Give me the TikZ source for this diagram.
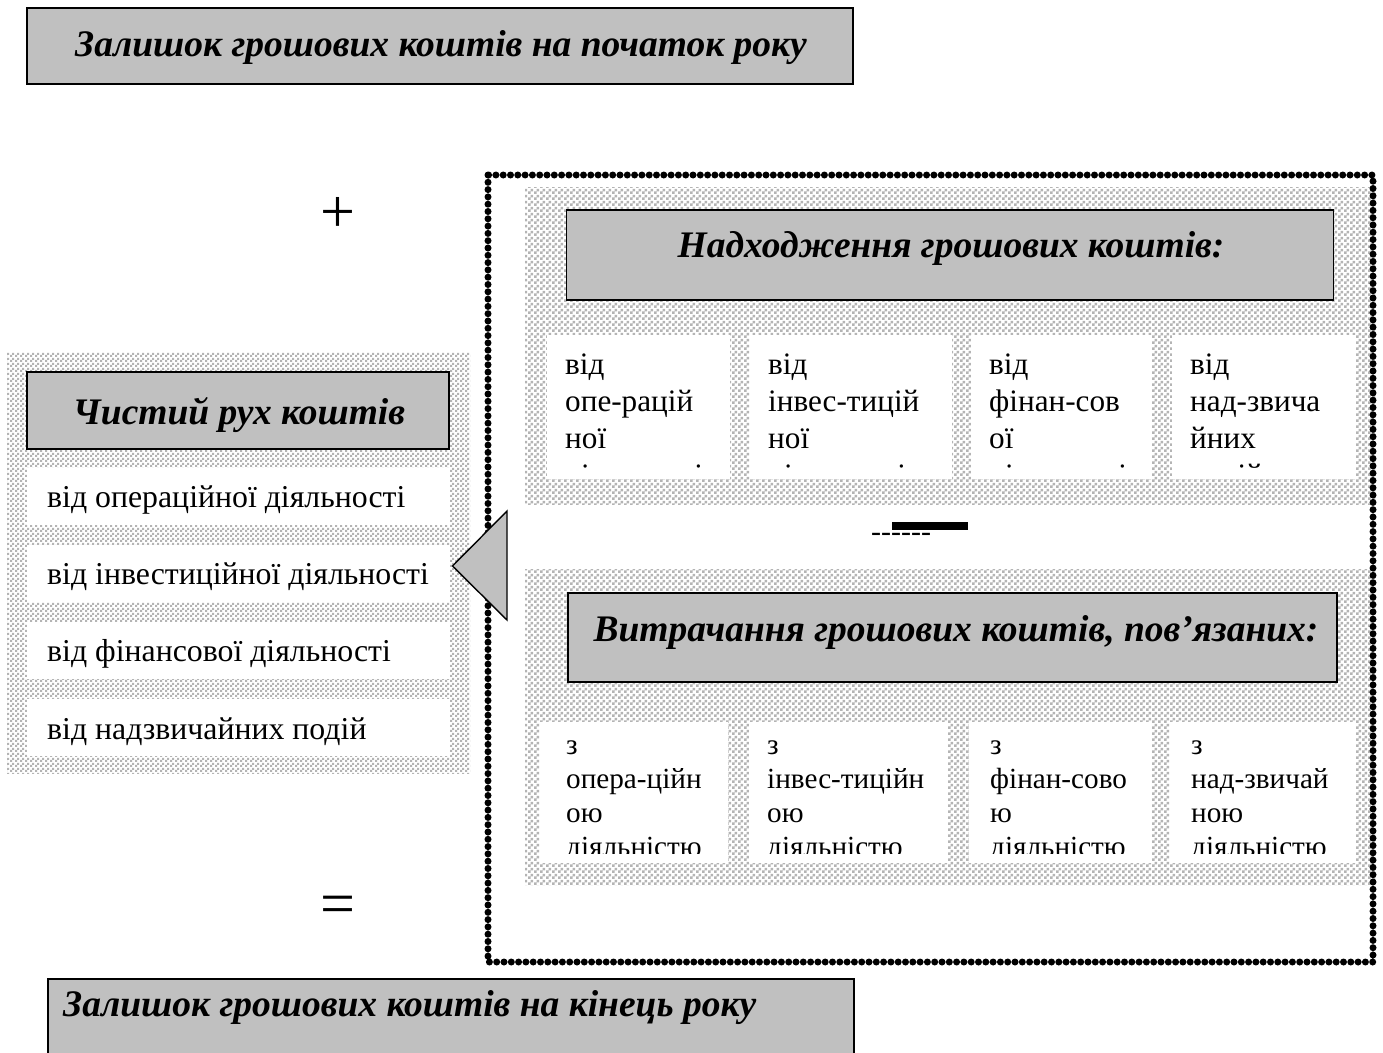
\documentclass[tikz,border=0pt]{standalone}
\usepackage{fontspec}
\setmainfont{Liberation Serif}
\usetikzlibrary{patterns}
\definecolor{boxgray}{HTML}{C0C0C0}
\definecolor{chkgray}{HTML}{B4B4B4}
\pgfdeclarepatternformonly{chkbig}{\pgfpointorigin}{\pgfpoint{6pt}{6pt}}{\pgfpoint{6pt}{6pt}}{%
  \pgfpathrectangle{\pgfpointorigin}{\pgfpoint{3pt}{3pt}}%
  \pgfpathrectangle{\pgfpoint{3pt}{3pt}}{\pgfpoint{3pt}{3pt}}%
  \pgfusepath{fill}}
\pgfdeclarepatternformonly{chksmall}{\pgfpointorigin}{\pgfpoint{5pt}{5pt}}{\pgfpoint{5pt}{5pt}}{%
  \pgfpathrectangle{\pgfpointorigin}{\pgfpoint{2.5pt}{2.5pt}}%
  \pgfpathrectangle{\pgfpoint{2.5pt}{2.5pt}}{\pgfpoint{2.5pt}{2.5pt}}%
  \pgfusepath{fill}}
\tikzset{
  hdrbox/.style={draw=black, line width=1.6pt, fill=boxgray, inner sep=0pt},
  hdrtext/.style={font=\fontsize{37.5}{42}\selectfont\bfseries\itshape, inner sep=0pt},
  whitebox/.style={fill=white, inner sep=0pt},
  rowtext/.style={font=\fontsize{31.8}{36}\selectfont, inner sep=0pt, anchor=base west},
  celltext/.style={font=\fontsize{31.2}{37}\selectfont, inner sep=0pt, align=left, anchor=north west},
  lowtext/.style={font=\fontsize{29.2}{34}\selectfont, inner sep=0pt, align=left, anchor=north west},
  patbig/.style={pattern=chkbig, pattern color=chkgray},
  patsmall/.style={pattern=chksmall, pattern color=chkgray},
  dotframe/.style={line width=7pt, dash pattern=on 0pt off 7.3pt, line cap=round},
  signtext/.style={font=\fontsize{62}{62}\selectfont, inner sep=0pt},
}
\begin{document}
\begin{tikzpicture}[x=1pt, y=-1pt]
\useasboundingbox[fill=white] (0,0) rectangle (1383,1052);

% top box
\node[hdrbox, minimum width=826pt, minimum height=76pt] (start) at (440,46) {};
\node[hdrtext, anchor=base west] (starttxt) at (75,56) {Залишок грошових коштів на початок року};

% plus, equals
\node[signtext] (plus) at (338,215) {+};
\node[signtext] (eq) at (338,910) {=};

% left group
\fill[patsmall] (7,352) rectangle (470,773);
\node[hdrbox, minimum width=422pt, minimum height=77pt] (net) at (238,410.5) {};
\node[hdrtext, anchor=base] (nettxt) at (239,424) {Чистий рух коштів};
\node[whitebox, minimum width=423pt, minimum height=57pt] (r1) at (238.5,496.5) {};
\node[whitebox, minimum width=423pt, minimum height=57pt] (r2) at (238.5,573.5) {};
\node[whitebox, minimum width=423pt, minimum height=57pt] (r3) at (238.5,650.5) {};
\node[whitebox, minimum width=423pt, minimum height=57pt] (r4) at (238.5,727.5) {};
\node[rowtext] (r1t) at (47,507) {від операційної діяльності};
\node[rowtext] (r2t) at (47,584) {від інвестиційної діяльності};
\node[rowtext] (r3t) at (47,661) {від фінансової діяльності};
\node[rowtext] (r4t) at (47,739) {від надзвичайних подій};

% right group: upper
\fill[patbig] (525,187) rectangle (1375,504);
\node[hdrbox, minimum width=767pt, minimum height=90pt] (inc) at (950,255) {};
\node[hdrtext, anchor=base] (inctxt) at (951,257) {Надходження грошових коштів:};

\node[whitebox, minimum width=183pt, minimum height=144pt, anchor=north west] (u1) at (547,335) {};
\node[whitebox, minimum width=202pt, minimum height=144pt, anchor=north west] (u2) at (750,335) {};
\node[whitebox, minimum width=181pt, minimum height=144pt, anchor=north west] (u3) at (971,335) {};
\node[whitebox, minimum width=184pt, minimum height=144pt, anchor=north west] (u4) at (1172,335) {};
\begin{scope}
\clip (540,335) rectangle (1360,467);
\node[celltext] (u1t) at (565,354) {від\\опе-рацій\\ної\\діяльності};
\node[celltext] (u2t) at (768,354) {від\\інвес-тицій\\ної\\діяльності};
\node[celltext] (u3t) at (989,354) {від\\фінан-сов\\ої\\діяльності};
\node[celltext] (u4t) at (1190,354) {від\\над-звича\\йних\\подій};
\end{scope}

% minus
\fill[black] (892,522) rectangle (968,529.5);
\node[font=\fontsize{30}{30}\selectfont, inner sep=0pt, anchor=base west] (minus) at (871,541) {-{}-{}-{}-{}-{}-};

% lower
\fill[patbig] (525,569) rectangle (1375,885);
\node[hdrbox, minimum width=769pt, minimum height=89pt] (out) at (952.5,637.5) {};
\node[hdrtext, anchor=base] (outtxt) at (956,641) {Витрачання грошових коштів, пов’язаних:};

\node[whitebox, minimum width=188pt, minimum height=141pt, anchor=north west] (l1) at (540,722) {};
\node[whitebox, minimum width=199pt, minimum height=141pt, anchor=north west] (l2) at (749,722) {};
\node[whitebox, minimum width=183pt, minimum height=141pt, anchor=north west] (l3) at (969,722) {};
\node[whitebox, minimum width=186pt, minimum height=141pt, anchor=north west] (l4) at (1170,722) {};
\begin{scope}
\clip (540,722) rectangle (1360,853);
\node[lowtext] (l1t) at (566,741) {з\\опера-ційн\\ою\\діяльністю};
\node[lowtext] (l2t) at (767,741) {з\\інвес-тиційн\\ою\\діяльністю};
\node[lowtext] (l3t) at (990,741) {з\\фінан-сово\\ю\\діяльністю};
\node[lowtext] (l4t) at (1191,741) {з\\над-звичай\\ною\\діяльністю};
\end{scope}

% dotted frame
\coordinate (fa) at (488,175);
\coordinate (fb) at (1373,962);
\draw[dotframe] (fa) rectangle (fb);

% triangle arrow
\coordinate (tip) at (452.5,566);
\coordinate (tu) at (507,511);
\coordinate (td) at (507,620);
\filldraw[fill=boxgray, draw=black, line width=1.4pt, line join=miter] (tip) -- (tu) -- (td) -- cycle;

% bottom box
\node[hdrbox, minimum width=806pt, minimum height=90pt, anchor=north west] (end) at (47,978) {};
\node[hdrtext, anchor=base west] (endtxt) at (63,1016) {Залишок грошових коштів на кінець року};
\end{tikzpicture}
\end{document}
